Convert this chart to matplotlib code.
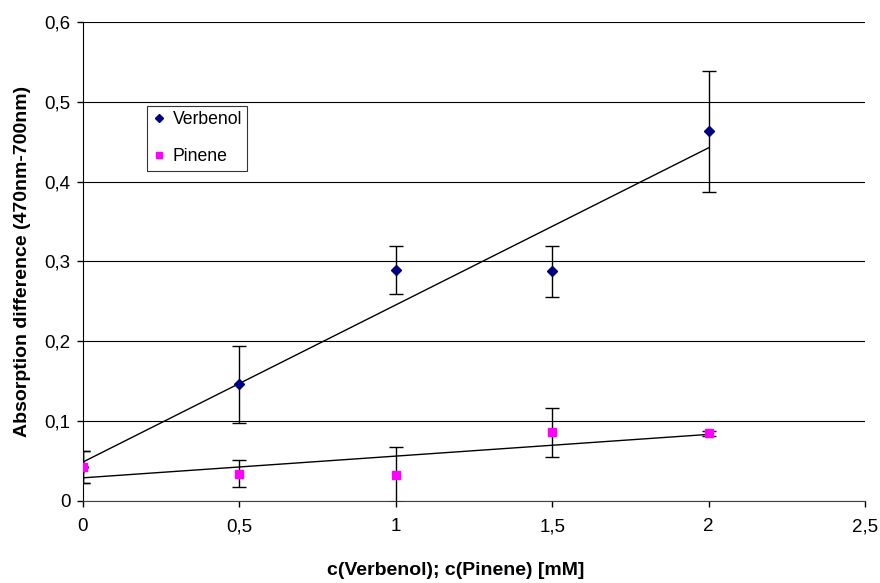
import numpy as np
import matplotlib
matplotlib.use('Agg')
from matplotlib import pyplot as plt
from matplotlib.ticker import FuncFormatter

conc = [0, 0.5, 1, 1.5, 2]
verbenol = [0.042, 0.146, 0.289, 0.288, 0.463]
verbenol_err = [0.020, 0.048, 0.030, 0.032, 0.076]
pinene = [0.043, 0.034, 0.033, 0.086, 0.085]
pinene_err = [0.020, 0.017, 0.034, 0.031, 0.003]

plt.rcParams['font.family'] = ['Liberation Sans', 'DejaVu Sans']

fig = plt.figure(figsize=(8.8, 5.83), dpi=100)
ax = fig.add_axes([0.0943, 0.1407, 0.8887, 0.8216])

# Fehlerbalken
ax.errorbar(conc, verbenol, yerr=verbenol_err, fmt='none', ecolor='black', elinewidth=1, capsize=5, capthick=1, zorder=3)
ax.errorbar(conc, pinene, yerr=pinene_err, fmt='none', ecolor='black', elinewidth=1, capsize=5, capthick=1, zorder=3)

# lineare Trendlinien
x = np.array(conc)
for y in (verbenol, pinene):
    k, b = np.polyfit(x, y, 1)
    ax.plot([x.min(), x.max()], [b + k * x.min(), b + k * x.max()], color='black', lw=1, zorder=4)

ax.plot(conc, verbenol, 'D', color='#000080', ms=5.5, ls='none', label='Verbenol', zorder=5)
ax.plot(conc, pinene, 's', color='#FF00FF', ms=5.5, ls='none', label='Pinene', zorder=6)

ax.set_xlim(0, 2.5)
ax.set_ylim(0, 0.6)
ax.set_xticks(np.arange(0, 2.51, 0.5))
ax.set_yticks(np.arange(0, 0.61, 0.1))
fmt = FuncFormatter(lambda v, p: ('%g' % round(v, 2)).replace('.', ','))
ax.xaxis.set_major_formatter(fmt)
ax.yaxis.set_major_formatter(fmt)
ax.tick_params(axis='x', direction='out', length=4, width=1, labelsize=13.5, pad=8.5)
ax.tick_params(axis='y', direction='out', length=4, width=1, labelsize=13.5, pad=5)
ax.yaxis.grid(True, color='black', lw=0.8)
ax.set_axisbelow(True)
for s in ('top', 'right'):
    ax.spines[s].set_visible(False)
ax.spines['left'].set_color('black')
ax.spines['bottom'].set_color('#404040')

ax.set_xlabel('c(Verbenol); c(Pinene) [mM]', fontsize=14, fontweight='bold')
ax.set_ylabel('Absorption difference (470nm-700nm)', fontsize=14, fontweight='bold')
ax.xaxis.set_label_coords(0.476, -0.127)
ax.yaxis.set_label_coords(-0.066, 0.5)

leg = ax.legend(loc='upper left', bbox_to_anchor=(0.082, 0.825), borderaxespad=0, fontsize=12.7, frameon=True,
                fancybox=False, edgecolor='black', markerscale=0.75, handlelength=0.8, handletextpad=0.35,
                borderpad=0.3, labelspacing=1.15)
leg.get_frame().set_linewidth(0.8)

plt.savefig('out.png', dpi=100)
